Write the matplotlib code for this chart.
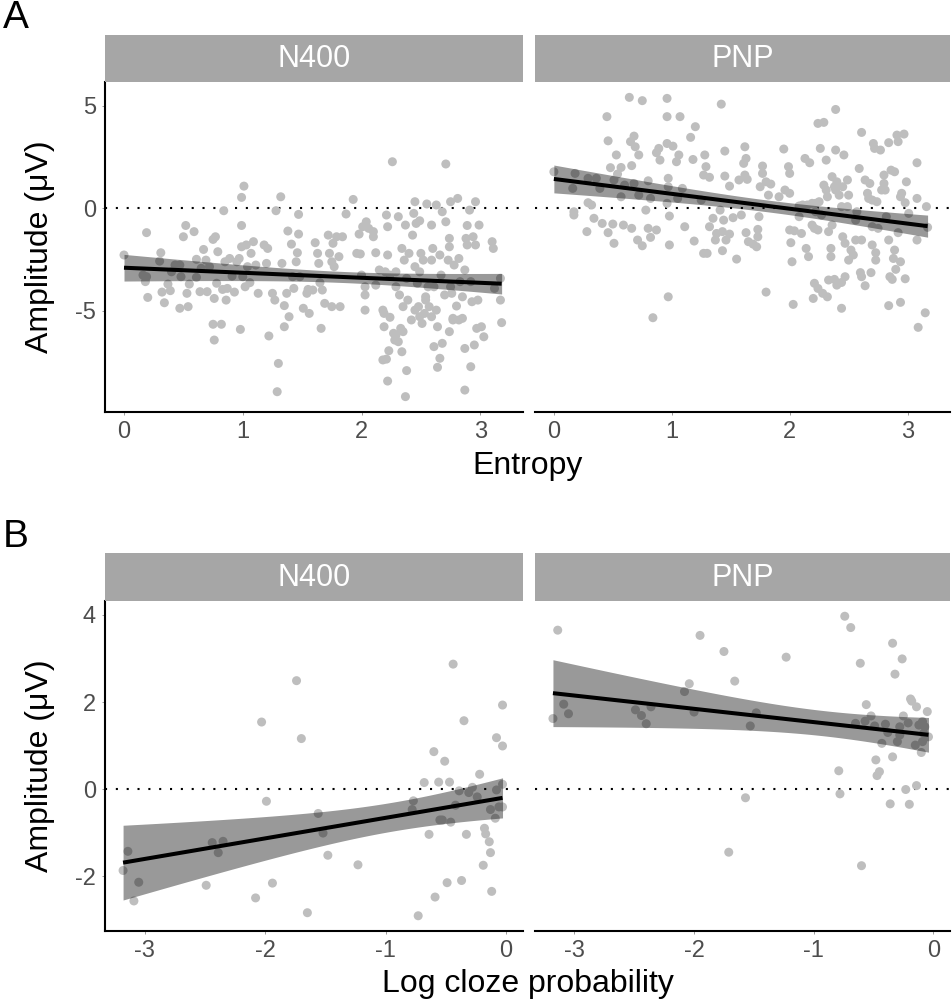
import numpy as np
import matplotlib
matplotlib.use("Agg")
import matplotlib.pyplot as plt

plt.rcParams['font.family'] = ['Liberation Sans', 'DejaVu Sans']

# ---------------- data ----------------
# Panel A, N400: (entropy, amplitude)
a_n400_entropy = [0.00,0.19,0.31,0.30,0.19,0.18,0.20,0.32,0.34,0.37,0.39,0.40,0.43,0.47,0.48,0.50,0.52,0.47,0.54,0.53,
    0.55,0.59,0.61,0.61,0.64,0.65,0.67,0.69,0.70,0.72,0.75,0.77,0.76,0.78,0.79,0.75,0.82,0.76,0.84,0.85,
    0.83,0.86,0.87,0.89,0.91,0.93,0.95,0.97,0.98,0.99,1.01,0.99,0.99,1.00,1.02,1.03,1.04,1.06,1.07,1.09,
    1.11,1.13,1.18,1.20,1.21,1.22,1.25,1.27,1.28,1.30,1.29,1.32,1.33,1.35,1.35,1.37,1.38,1.39,1.41,1.42,
    1.43,1.45,1.46,1.47,1.47,1.48,1.51,1.54,1.55,1.56,1.59,1.61,1.63,1.64,1.65,1.66,1.67,1.69,1.72,1.73,
    1.75,1.75,1.76,1.77,1.79,1.81,1.82,1.84,1.87,1.93,1.98,1.96,1.99,2.00,2.01,2.03,2.03,2.03,2.04,2.06,
    2.10,2.10,2.12,2.12,2.15,2.18,2.19,2.20,2.21,2.22,2.22,2.24,2.24,2.26,2.27,2.28,2.29,2.29,2.31,2.32,
    2.33,2.34,2.34,2.35,2.36,2.37,2.38,2.39,2.40,2.42,2.43,2.44,2.45,2.45,2.46,2.47,2.48,2.49,2.49,2.50,
    2.52,2.53,2.54,2.55,2.56,2.57,2.59,2.59,2.60,2.61,2.61,2.63,2.63,2.64,2.66,2.64,2.66,2.67,2.68,2.68,
    2.70,2.71,2.71,2.73,2.74,2.74,2.75,2.75,2.74,2.76,2.77,2.78,2.80,2.81,2.82,2.83,2.85,2.85,2.87,2.87,
    2.88,2.89,2.89,2.87,2.91,2.92,2.92,2.93,2.94,2.95,2.96,2.96,2.97,2.98,2.99,3.01,3.03,3.10,3.11,3.12,
    3.17,3.17,3.18,2.21,2.22,2.37,2.23,2.18,2.19,2.29,2.31,2.38,2.45,2.49,2.51,2.54,2.59,2.77,2.82,2.35,
    0.16]
a_n400_amplitude = [-2.29,-1.20,-2.18,-2.59,-3.35,-3.59,-4.36,-4.10,-4.62,-3.71,-4.03,-3.11,-2.78,-2.78,-3.35,-1.40,-0.85,-4.89,-4.81,-4.16,
    -3.71,-1.15,-2.50,-3.38,-4.08,-2.94,-2.02,-2.54,-4.08,-2.86,-1.53,-1.40,-4.41,-3.67,-2.13,-5.67,-5.67,-6.44,-0.13,-2.62,
    -3.97,-4.49,-3.92,-2.46,-3.32,-4.10,-2.62,-2.46,-5.92,0.52,1.07,-0.85,-1.89,-3.35,-3.84,-1.80,-2.86,-3.64,-2.21,-1.64,
    -2.78,-4.16,-1.80,-2.70,-1.97,-6.24,-4.16,-4.49,-0.13,-7.58,-8.96,0.55,-2.70,-4.76,-5.79,-4.16,-1.12,-5.30,-1.76,-3.35,
    -3.92,-2.62,-2.18,-1.27,-0.31,-3.35,-4.89,-4.16,-3.97,-5.14,-4.00,-1.69,-2.21,-2.70,-3.64,-5.87,-4.00,-4.65,-1.32,-2.21,
    -4.81,-2.62,-1.72,-2.86,-1.40,-2.37,-4.81,-1.40,-0.29,0.42,-1.27,-2.21,-2.24,-3.27,-0.91,-3.84,-4.24,-4.98,-0.67,-0.99,
    -1.15,-1.40,-2.18,-3.76,-3.02,-4.98,-5.79,-3.11,-0.34,-2.29,-0.91,-5.33,-3.27,2.26,-6.11,-6.44,-3.11,-3.84,-0.42,-4.24,
    -5.87,-7.01,-1.97,-4.81,-2.54,-0.83,-3.43,-4.49,-2.21,-5.46,-1.32,-0.26,-2.86,0.31,-0.75,-3.67,-4.81,-0.62,-3.11,-2.21,
    -2.54,-5.14,-4.33,0.20,-3.84,-4.81,-0.83,-2.54,-1.97,-6.76,-3.84,0.15,-4.98,-5.79,-7.33,-7.77,-2.29,-3.27,-6.60,-0.18,
    -4.24,2.15,-0.67,-2.54,-1.48,-1.89,0.31,-3.84,-6.03,-4.16,-5.38,-2.78,-4.78,0.47,-2.46,-3.59,-4.33,-5.38,-3.02,-6.85,
    -1.48,-1.80,-0.85,-8.88,-0.10,-7.74,-3.59,-4.57,-1.40,-6.68,0.31,-1.80,-5.87,-4.49,-0.83,-5.79,-6.28,-1.64,-1.97,-3.92,
    -3.43,-4.49,-5.59,-7.37,-8.44,-9.20,-6.96,-7.41,-5.14,-6.20,-6.52,-7.93,-4.98,-5.30,-5.63,-4.49,-5.30,-5.46,-5.46,-6.03,
    -3.27]

# Panel A, PNP: (entropy, amplitude)
a_pnp_entropy = [0.64,0.75,0.96,1.42,0.45,0.96,1.07,1.20,1.16,0.46,0.68,0.65,0.69,0.72,0.53,0.89,0.87,0.96,1.01,0.90,
    1.06,1.04,1.18,1.28,1.29,1.45,1.62,1.63,1.61,1.77,1.95,0.66,0.48,0.57,0.00,0.18,0.16,0.29,0.36,0.39,
    0.51,0.54,0.60,0.57,0.68,0.72,0.80,0.78,0.82,0.29,0.32,0.17,0.17,0.34,0.41,0.28,0.46,0.50,0.51,0.59,
    0.66,0.71,0.75,0.80,0.82,0.87,0.97,0.97,0.96,0.98,0.98,1.09,1.11,1.05,1.19,1.27,1.32,1.25,1.27,1.30,
    1.32,1.35,1.37,1.38,1.41,1.44,1.43,1.43,1.45,1.46,1.49,1.49,1.52,1.55,1.57,1.59,1.62,1.64,1.63,1.65,
    1.69,1.72,1.73,1.74,1.73,1.75,1.77,1.80,1.82,1.84,1.91,1.96,2.00,1.99,2.00,2.01,2.02,2.00,2.04,2.08,
    2.10,2.11,2.13,2.14,2.16,2.17,2.19,2.21,2.24,2.19,2.22,2.25,2.24,2.29,2.26,2.29,2.31,2.32,2.33,2.35,
    2.35,2.36,2.36,2.38,2.39,2.39,2.40,2.42,2.44,2.45,2.46,2.47,2.49,2.50,2.50,2.52,2.54,2.56,2.57,2.59,
    2.61,2.61,2.64,2.66,2.68,2.70,2.71,2.72,2.73,2.73,2.70,2.77,2.78,2.80,2.80,2.82,2.84,2.84,2.86,2.88,
    2.89,2.91,2.92,2.94,2.95,2.97,2.98,2.99,3.01,2.92,2.89,2.94,2.90,2.85,2.87,2.98,3.08,3.08,3.08,3.16,
    3.17,3.15,3.09,2.94,2.84,2.60,2.61,2.64,2.69,2.33,2.38,2.44,2.47,2.40,2.21,2.24,2.28,2.32,2.20,2.44,
    2.03,1.80,0.97,0.84,2.31,2.39,2.45,2.81,2.67,2.74,2.08,2.15,2.22,2.27,2.49,2.56,2.70,2.75]
a_pnp_amplitude = [5.40,5.24,5.35,5.07,4.46,4.46,4.46,3.97,3.45,3.28,3.51,3.24,2.99,2.59,2.59,2.91,2.70,3.15,3.02,2.34,
    2.59,2.26,2.37,2.59,2.02,2.78,2.99,2.42,2.18,2.05,2.88,2.07,1.97,1.98,1.77,1.69,0.96,1.45,1.45,0.96,
    1.37,1.66,1.12,0.55,1.20,0.63,1.33,-0.10,0.47,0.26,0.15,-0.18,-0.34,-0.50,-0.75,-1.15,-1.20,-0.78,-1.72,-0.83,
    -0.99,-1.56,-1.84,-0.99,-1.43,-1.07,1.45,1.04,0.23,-0.39,-1.80,0.96,-0.91,0.47,-1.61,1.61,1.50,0.39,-2.21,-2.21,
    -0.91,-0.50,-1.56,-1.24,-0.10,-0.59,-1.15,-2.08,1.56,-1.56,-1.27,1.07,-0.47,-2.49,1.37,-0.34,1.61,1.40,-1.20,-1.64,
    -1.76,-1.89,-1.40,-0.42,-1.04,1.04,1.69,1.28,0.63,1.17,0.55,0.88,0.72,2.02,1.69,-1.69,-2.62,-1.07,-1.11,-0.42,
    -1.24,0.15,2.42,-1.97,-2.37,2.21,-0.83,-0.99,-1.07,0.23,0.23,0.31,4.13,4.18,2.91,1.12,2.34,0.55,-1.15,-1.97,
    -2.37,-0.83,1.53,1.04,2.83,4.81,1.28,0.63,0.07,-1.40,2.59,-1.72,1.37,0.63,-2.54,-2.05,-2.29,-1.56,-0.18,1.93,
    3.69,-1.56,1.37,0.72,1.20,0.39,3.15,2.91,-2.18,-2.54,-1.80,2.83,0.88,1.61,1.20,-0.42,-1.56,3.19,1.85,-2.46,
    1.77,3.56,3.24,0.55,0.72,3.61,0.26,1.28,-0.26,-1.20,-2.05,-2.62,-2.99,-3.35,-3.48,-3.45,2.21,0.47,-1.56,0.07,
    -0.94,-5.11,-5.82,-4.60,-4.76,-3.15,-3.35,-3.79,-3.15,-3.51,-3.48,-3.63,-3.35,-3.76,-3.67,-3.92,-4.16,-4.33,-4.41,-4.89,
    -4.70,-4.10,-4.33,-5.35,0.88,0.88,1.04,0.88,0.47,0.31,0.10,0.15,-0.18,-0.34,0.07,-0.59,-0.91,-0.99]

# Panel B, N400: (log cloze probability, amplitude)
b_n400_logcloze = [-0.44,-1.74,-2.03,-1.70,-0.03,-0.35,-0.08,-0.03,-0.60,-0.51,-0.22,-0.68,-0.56,-0.47,-0.03,-0.28,-0.39,-0.31,-0.24,-0.08,
    -0.06,-0.13,-0.03,-1.99,-0.77,-0.78,-0.42,-1.56,-0.55,-0.53,-0.46,-0.09,-0.18,-0.17,-0.64,-0.33,-1.52,-2.44,-2.35,-2.39,
    -3.14,-0.14,-0.13,-1.48,-1.23,-0.19,-3.18,-3.05,-2.49,-1.94,-0.49,-0.37,-3.09,-2.08,-0.59,-0.12,-1.65,-0.73]
b_n400_amplitude = [2.87,2.49,1.54,1.16,1.93,1.57,1.18,0.99,0.86,0.64,0.34,0.15,0.16,0.16,0.11,0.04,-0.04,-0.08,-0.18,-0.02,
    -0.41,-0.47,-0.41,-0.28,-0.27,-0.47,-0.37,-0.56,-0.71,-0.71,-0.76,-0.67,-0.90,-1.03,-1.04,-1.04,-1.01,-1.23,-1.20,-1.46,
    -1.43,-1.21,-1.46,-1.52,-1.74,-1.75,-1.87,-2.14,-2.21,-2.16,-2.15,-2.10,-2.57,-2.50,-2.48,-2.35,-2.84,-2.91]

# Panel B, PNP: (log cloze probability, amplitude)
b_pnp_logcloze = [-0.74,-0.69,-3.14,-1.95,-0.34,-1.75,-1.23,-0.26,-0.61,-0.32,-1.66,-2.04,-2.08,-0.19,-0.18,-0.14,-0.56,-3.09,-3.05,-3.18,
    -2.49,-2.44,-2.36,-2.40,-2.00,-1.48,-1.53,-0.05,-0.52,-0.25,-0.65,-0.57,-0.49,-0.40,-0.21,-0.28,-0.12,-0.09,-0.07,-0.04,
    -0.38,-0.28,-0.08,-0.43,-0.30,-0.15,-0.09,-0.10,-0.34,-0.48,-0.79,-0.45,-0.47,-0.14,-0.23,-0.78,-1.57,-0.36,-0.20,-1.71,
    -0.60]
b_pnp_amplitude = [3.97,3.71,3.65,3.53,3.35,3.16,3.03,2.99,2.89,2.64,2.48,2.42,2.24,2.07,2.02,1.89,1.94,1.95,1.73,1.62,
    1.82,1.69,1.89,1.50,1.77,1.75,1.45,1.78,1.68,1.68,1.51,1.56,1.45,1.49,1.52,1.43,1.47,1.55,1.43,1.20,
    1.30,1.24,1.28,1.05,1.09,1.01,1.09,0.84,0.74,0.67,0.42,0.40,0.31,0.08,-0.01,-0.11,-0.20,-0.34,-0.35,-1.45,
    -1.76]

panel_titles = ["N400", "PNP"]
panel_letters = ["A", "B"]
x_titles = ["Entropy", "Log cloze probability"]
y_title = "Amplitude (\u03bcV)"
a_xticks = [0, 1, 2, 3]
a_yticks = [-5, 0, 5]
b_xticks = [-3, -2, -1, 0]
b_yticks = [-2, 0, 2, 4]

# ---------------- style ----------------
W, H = 952, 1005
POINT_COL = "#BEBEBE"
STRIP_COL = "#A6A6A6"
TICK_COL = "#4D4D4D"


def tcrit(df):
    z = 1.959964
    return z + (z**3 + z) / (4 * df) + (5 * z**5 + 16 * z**3 + 3 * z) / (96 * df**2)


def add_fit(ax, x, y):
    x = np.asarray(x, float)
    y = np.asarray(y, float)
    X = np.column_stack([np.ones_like(x), x])
    beta, *_ = np.linalg.lstsq(X, y, rcond=None)
    resid = y - X @ beta
    n = len(x)
    s2 = resid @ resid / (n - 2)
    cov = s2 * np.linalg.inv(X.T @ X)
    xs = np.linspace(x.min(), x.max(), 80)
    Xs = np.column_stack([np.ones_like(xs), xs])
    fit = Xs @ beta
    se = np.sqrt(np.einsum('ij,jk,ik->i', Xs, cov, Xs))
    t = tcrit(n - 2)
    ax.fill_between(xs, fit - t * se, fit + t * se, color="black", alpha=0.4, lw=0, zorder=3)
    ax.plot(xs, fit, color="black", lw=2.9, zorder=4, solid_capstyle="butt")


def px_axes(fig, left, top, right, bottom):
    return fig.add_axes([left / W, 1 - bottom / H, (right - left) / W, (bottom - top) / H])


fig = plt.figure(figsize=(W / 100, H / 100), dpi=100)

rows = [
    dict(top=82, bottom=412, strip_top=35, xlim=(-0.16, 3.36), ylim=(-9.95, 6.15),
         xticks=a_xticks, yticks=a_yticks,
         data=[(a_n400_entropy, a_n400_amplitude), (a_pnp_entropy, a_pnp_amplitude)],
         letter_y=18, xlabel_y=466),
    dict(top=601, bottom=931, strip_top=553, xlim=(-3.33, 0.14), ylim=(-3.26, 4.32),
         xticks=b_xticks, yticks=b_yticks,
         data=[(b_n400_logcloze, b_n400_amplitude), (b_pnp_logcloze, b_pnp_amplitude)],
         letter_y=537, xlabel_y=984),
]
cols = [(105, 523), (535, 950)]

for r, row in enumerate(rows):
    for c, (l, rr) in enumerate(cols):
        ax = px_axes(fig, l, row["top"], rr, row["bottom"])
        xs, ys = row["data"][c]
        ax.axhline(0, color="black", lw=1.5, ls=(0, (1.0, 4.2)), zorder=1)
        ax.scatter(xs, ys, s=42, color=POINT_COL, edgecolors="none", zorder=2)
        add_fit(ax, xs, ys)
        ax.set_xlim(*row["xlim"])
        ax.set_ylim(*row["ylim"])
        ax.set_xticks(row["xticks"])
        ax.set_xticklabels([str(v) for v in row["xticks"]])
        ax.set_yticks(row["yticks"])
        ax.set_yticklabels([str(v) for v in row["yticks"]])
        for s in ["top", "right"]:
            ax.spines[s].set_visible(False)
        ax.spines["bottom"].set_linewidth(1.5)
        ax.spines["left"].set_linewidth(1.5)
        ax.tick_params(axis="both", length=2.5, width=0.7, color="#999999",
                       labelsize=17, labelcolor=TICK_COL, pad=4)
        if c == 1:
            ax.spines["left"].set_visible(False)
            ax.tick_params(axis="y", left=False, labelleft=False)
        # strip
        sax = px_axes(fig, l, row["strip_top"], rr, row["top"])
        sax.set_facecolor(STRIP_COL)
        sax.set_xticks([])
        sax.set_yticks([])
        for s in sax.spines.values():
            s.set_visible(False)
        sax.text(0.5, 0.48, panel_titles[c], color="white", fontsize=22,
                 ha="center", va="center", transform=sax.transAxes)
    # y label
    fig.text(40 / W, 1 - (row["top"] + row["bottom"]) / 2 / H, y_title, rotation=90,
             ha="center", va="center", fontsize=23, color="black")
    # x label
    fig.text((105 + 950) / 2 / W, 1 - row["xlabel_y"] / H, x_titles[r],
             ha="center", va="center", fontsize=23, color="black")
    # panel letter
    fig.text(16 / W, 1 - row["letter_y"] / H, panel_letters[r], ha="center", va="center",
             fontsize=28, color="black")

fig.savefig("out.png", dpi=100)
